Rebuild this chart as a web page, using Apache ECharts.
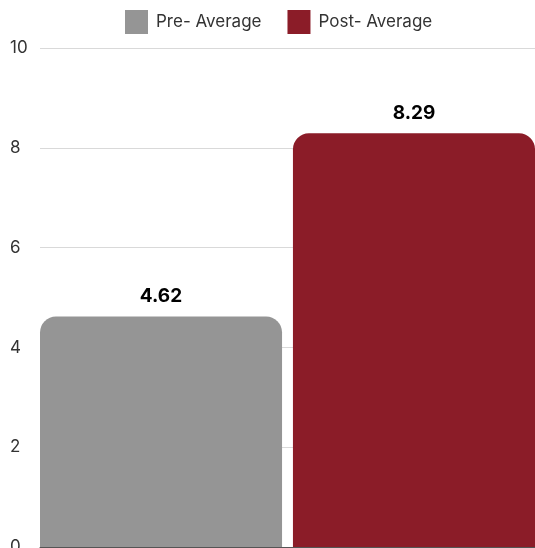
<!DOCTYPE html>
<html>
<head>
<meta charset="utf-8">
<script src="https://cdn.jsdelivr.net/npm/echarts@6/dist/echarts.min.js"></script>
<style>
html,body{margin:0;padding:0;background:#fff;overflow:hidden;}
#c{width:535px;height:548px;}
</style>
</head>
<body>
<div id="c"></div>
<script>
var seriesNames = ['Pre- Average', 'Post- Average'];
var seriesValues = [4.62, 8.29];
var seriesColors = ['#959595', '#8B1C28'];
var yTicks = [0, 2, 4, 6, 8, 10];

var chart = echarts.init(document.getElementById('c'), null, {renderer: 'canvas'});
var font = 'Inter, "DejaVu Sans", sans-serif';
var series = seriesNames.map(function (n, i) {
  return {
    name: n,
    type: 'bar',
    data: [seriesValues[i]],
    barGap: '4.5%',
    barCategoryGap: '0%',
    itemStyle: {color: seriesColors[i], borderRadius: [16, 16, 0, 0]},
    label: {
      show: true, position: 'top', distance: 11,
      formatter: function (p) { return p.value.toFixed(2); },
      color: '#000', fontWeight: 'bold', fontSize: 19, fontFamily: font
    }
  };
});
chart.setOption({
  animation: false,
  textStyle: {fontFamily: font},
  legend: {
    data: seriesNames,
    left: 120, top: 5,
    itemWidth: 23, itemHeight: 24, itemGap: 26,
    icon: 'rect',
    textStyle: {fontSize: 17, color: '#333', fontFamily: font, padding: [0, 0, 0, 3]}
  },
  grid: {left: 40, right: 0, top: 48, bottom: 1, containLabel: false, outerBoundsMode: 'none'},
  xAxis: {
    type: 'category', data: [''],
    axisLine: {show: true, lineStyle: {color: '#555'}},
    axisTick: {show: false}, axisLabel: {show: false}
  },
  yAxis: {
    type: 'value', min: yTicks[0], max: yTicks[yTicks.length - 1], interval: 2,
    axisLine: {show: false}, axisTick: {show: false},
    axisLabel: {align: 'left', margin: 30, fontSize: 17, color: '#333', fontFamily: font},
    splitLine: {lineStyle: {color: '#d9d9d9'}}
  },
  series: series
});
</script>
</body>
</html>
